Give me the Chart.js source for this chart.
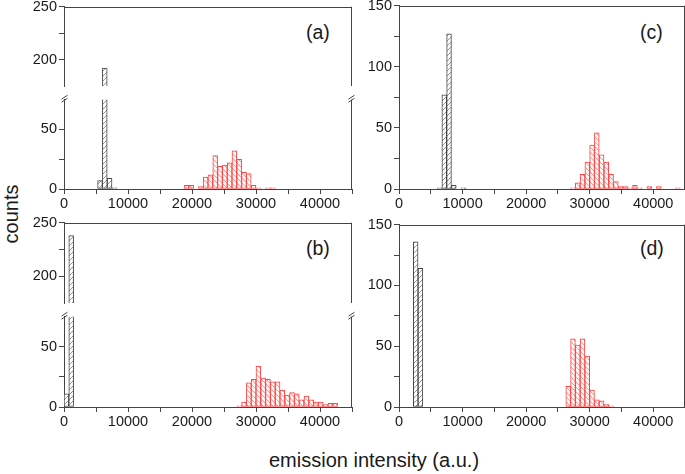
<!DOCTYPE html>
<html><head><meta charset="utf-8">
<script src="https://cdn.jsdelivr.net/npm/chart.js@4.4.1/dist/chart.umd.min.js"></script>
<style>
html,body{margin:0;padding:0;background:#fff;}
#wrap{position:relative;width:685px;height:474px;overflow:hidden;font-family:"Liberation Sans",Arial,sans-serif;color:#1a1a1a;}
#wrap canvas{position:absolute;}
.lbl{position:absolute;white-space:nowrap;line-height:1;}
</style></head><body>
<div id="wrap">
  <div class="lbl" style="left:306px;top:23px;font-size:19.5px;">(a)</div>
  <div class="lbl" style="left:640px;top:23px;font-size:19.5px;">(c)</div>
  <div class="lbl" style="left:306px;top:239px;font-size:19.5px;">(b)</div>
  <div class="lbl" style="left:640px;top:239px;font-size:19.5px;">(d)</div>
  <div class="lbl" style="left:11px;top:214px;font-size:20px;transform:translate(-50%,-50%) rotate(-90deg);">counts</div>
  <div class="lbl" style="left:374px;top:460px;font-size:20px;transform:translate(-50%,-50%);">emission intensity (a.u.)</div>
</div>
<script>
// ---- data (bin start values in a.u., counts) ----
const BIN = 750;
const xTickLabels = [0, 10000, 20000, 30000, 40000];

const aGrayBins   = [5250, 6000, 6750, 7500];
const aGrayCounts = [7, 192, 9, 1];
const aRedBins    = [18750,19500,20250,21000,21750,22500,23250,24000,24750,25500,26250,27000,27750,28500,29250,30000,30750,31500,32250];
const aRedCounts  = [3,3,0,2,10,12,28,19,20,22,32,25,14,13,3,1,0,1,1];

const bGrayBins   = [0, 750];
const bGrayCounts = [11, 238];
const bRedBins    = [27000,27750,28500,29250,30000,30750,31500,32250,33000,33750,34500,35250,36000,36750,37500,38250,39000,39750,40500,41250,42000];
const bRedCounts  = [1,4,20,23,34,24,23,21,21,14,10,12,11,6,9,6,4,4,2,3,3];

const cGrayBins   = [6000, 6750, 7500, 8250, 9000, 9750];
const cGrayCounts = [1, 77, 127, 3, 0, 1];
const cRedBins    = [27000,27750,28500,29250,30000,30750,31500,32250,33000,33750,34500,35250,36000,36750,37500,38250,39000,39750,40500,41250,42000,42750,43500];
const cRedCounts  = [1,5,12,22,36,46,28,22,12,6,2,2,1,3,1,0,2,0,2,0,0,0,1];

const dGrayBins   = [2250, 3000];
const dGrayCounts = [136, 114];
const dRedBins    = [26250,27000,27750,28500,29250,30000,30750,31500,32250,33000];
const dRedCounts  = [17,56,51,56,42,14,6,5,2,1];

// ---- styling ----
const FONT = '"Liberation Sans", Arial, sans-serif';
Chart.defaults.font.family = FONT;
Chart.defaults.color = '#1a1a1a';
const AXIS = '#444';

function hatch(color, dir, bg) {
  const s = 5;
  const c = document.createElement('canvas'); c.width = s; c.height = s;
  const g = c.getContext('2d');
  g.fillStyle = bg; g.fillRect(0, 0, s, s);
  g.strokeStyle = color; g.lineWidth = 0.9;
  g.beginPath();
  if (dir > 0) {
    g.moveTo(0, s); g.lineTo(s, 0);
    g.moveTo(-1, 1); g.lineTo(1, -1);
    g.moveTo(s - 1, s + 1); g.lineTo(s + 1, s - 1);
  } else {
    g.moveTo(0, 0); g.lineTo(s, s);
    g.moveTo(s - 1, -1); g.lineTo(s + 1, 1);
    g.moveTo(-1, s - 1); g.lineTo(1, s + 1);
  }
  g.stroke();
  return g.createPattern(c, 'repeat');
}
const grayHatch = hatch('#8c8c8c', 1, '#ffffff');
const redHatch = hatch('#ff8c8c', -1, '#fff6f6');

const framePlugin = {
  id: 'frame',
  afterDraw(chart, args, opts) {
    const { ctx, chartArea: a } = chart;
    ctx.save();
    ctx.strokeStyle = AXIS; ctx.lineWidth = 1;
    ctx.beginPath();
    const L = Math.round(a.left) + 0.5, R = Math.round(a.right) - 0.5, T = Math.round(a.top) + 0.5;
    if (opts.top) { ctx.moveTo(L, T); ctx.lineTo(R, T); }
    if (opts.right) { ctx.moveTo(R, a.top); ctx.lineTo(R, a.bottom); }
    ctx.stroke();
    if (opts.breakMark) {
      ctx.beginPath();
      for (const x of [L, R]) {
        for (const y of [a.top + 0.5, a.top - 2.5]) { ctx.moveTo(x - 3, y + 2); ctx.lineTo(x + 3, y - 2); }
      }
      ctx.stroke();
    }
    ctx.restore();
  }
};

const wrap = document.getElementById('wrap');

function ds(bins, counts, bg, border) {
  return {
    data: bins.map((b, i) => ({ x: b + BIN / 2, y: counts[i] })),
    backgroundColor: bg, borderColor: border, borderWidth: 1, borderSkipped: false,
    grouped: false, barPercentage: 1, categoryPercentage: 1, clip: 0
  };
}

function makeChart(box, cfg) {
  const PL = 46, PR = 6, PT = 10;
  const PB = cfg.showX ? 26 : 10;
  const w = box.right - box.left + PL + PR;
  const h = box.bottom - box.top + PT + PB;
  const cv = document.createElement('canvas');
  cv.width = w; cv.height = h;
  cv.style.left = (box.left - PL) + 'px';
  cv.style.top = (box.top - PT) + 'px';
  cv.style.width = w + 'px'; cv.style.height = h + 'px';
  wrap.appendChild(cv);
  new Chart(cv, {
    type: 'bar',
    data: { datasets: cfg.datasets },
    plugins: [framePlugin],
    options: {
      responsive: false, animation: false, devicePixelRatio: 1,
      layout: { padding: { left: 0, right: PR, top: PT, bottom: cfg.showX ? 0 : PB } },
      plugins: { legend: { display: false }, tooltip: { enabled: false }, frame: cfg.frame },
      scales: {
        x: {
          type: 'linear', min: 0, max: 45000, offset: false, display: cfg.showX,
          ticks: { stepSize: 5000, autoSkip: false, maxRotation: 0, font: { size: 14.5 }, color: '#1a1a1a', padding: 1,
            callback: v => xTickLabels.includes(v) ? String(v) : '' },
          grid: { drawOnChartArea: false, tickLength: 5, color: AXIS, offset: false },
          border: { color: AXIS, width: 1 },
          afterFit: s => { s.height = PB; }
        },
        y: {
          min: cfg.yMin, max: cfg.yMax,
          ticks: { stepSize: 25, autoSkip: false, font: { size: 14.5 }, color: '#1a1a1a', padding: 2,
            callback: v => cfg.hide.includes(v) ? null : (v % 50 === 0 ? String(v) : '') },
          grid: { drawOnChartArea: false, tickLength: 5, color: AXIS },
          border: { color: AXIS, width: 1 },
          afterFit: s => { s.width = PL; }
        }
      }
    }
  });
}

function panelSets(gb, gc, rb, rc) {
  return [ds(gb, gc, grayHatch, '#444444'), ds(rb, rc, redHatch, '#ff4040')];
}

// (a) broken axis
makeChart({ left: 64, right: 352, top: 6, bottom: 96 },
  { yMin: 175, yMax: 250, hide: [175], showX: false, frame: { top: true, right: true },
    datasets: panelSets(aGrayBins, aGrayCounts, aRedBins, aRedCounts) });
makeChart({ left: 64, right: 352, top: 99, bottom: 189 },
  { yMin: 0, yMax: 75, hide: [75], showX: true, frame: { right: true, breakMark: true },
    datasets: panelSets(aGrayBins, aGrayCounts, aRedBins, aRedCounts) });
// (b) broken axis
makeChart({ left: 64, right: 352, top: 222, bottom: 313 },
  { yMin: 175, yMax: 250, hide: [175], showX: false, frame: { top: true, right: true },
    datasets: panelSets(bGrayBins, bGrayCounts, bRedBins, bRedCounts) });
makeChart({ left: 64, right: 352, top: 316, bottom: 407 },
  { yMin: 0, yMax: 75, hide: [75], showX: true, frame: { right: true, breakMark: true },
    datasets: panelSets(bGrayBins, bGrayCounts, bRedBins, bRedCounts) });
// (c)
makeChart({ left: 399, right: 685, top: 5, bottom: 189 },
  { yMin: 0, yMax: 150, hide: [], showX: true, frame: { top: true, right: true },
    datasets: panelSets(cGrayBins, cGrayCounts, cRedBins, cRedCounts) });
// (d)
makeChart({ left: 399, right: 685, top: 224, bottom: 407 },
  { yMin: 0, yMax: 150, hide: [], showX: true, frame: { top: true, right: true },
    datasets: panelSets(dGrayBins, dGrayCounts, dRedBins, dRedCounts) });
</script>
</body></html>
